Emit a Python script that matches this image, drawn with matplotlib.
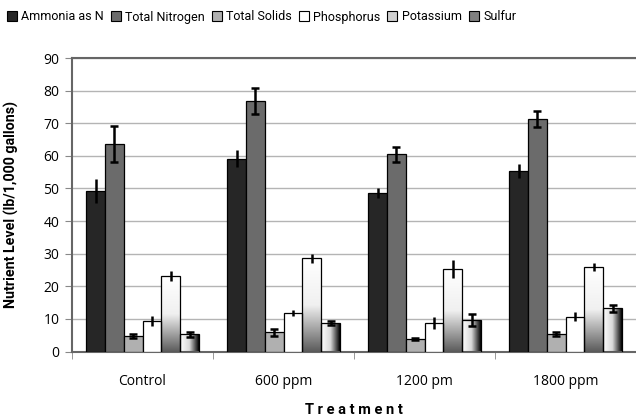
import numpy as np
import matplotlib
matplotlib.use("Agg")
import matplotlib.pyplot as plt
from matplotlib.patches import Patch
from matplotlib.colors import LinearSegmentedColormap

categories = ["Control", "600 ppm", "1200 pm", "1800 ppm"]
series = ["Ammonia as N", "Total Nitrogen", "Total Solids", "Phosphorus", "Potassium", "Sulfur"]
ammonia = [49.2, 59.1, 48.6, 55.3]
ammonia_err = [3.8, 2.6, 1.5, 2.2]
total_n = [63.5, 76.8, 60.5, 71.2]
total_n_err = [5.5, 4.0, 2.3, 2.5]
total_solids = [4.7, 5.9, 3.8, 5.3]
total_solids_err = [0.7, 1.1, 0.2, 0.6]
phosphorus = [9.3, 11.9, 8.7, 10.7]
phosphorus_err = [1.6, 0.9, 1.8, 1.3]
potassium = [23.2, 28.6, 25.3, 25.9]
potassium_err = [1.6, 1.4, 2.8, 1.3]
sulfur = [5.3, 8.7, 9.7, 13.3]
sulfur_err = [0.8, 0.6, 1.8, 1.1]

values = [ammonia, total_n, total_solids, phosphorus, potassium, sulfur]
errors = [ammonia_err, total_n_err, total_solids_err, phosphorus_err, potassium_err, sulfur_err]
fills = ["#262626", "#6b6b6b", "#b0b0b0", "#ffffff", "vgrad", "hgrad"]
caps = [0, 3, 3, 0, 0, 3]

plt.rcParams['font.family'] = ['Open Sans', 'DejaVu Sans']

fig = plt.figure(figsize=(6.36, 4.19), dpi=100)
ax = fig.add_axes([72/636, 1 - 351.5/419, 1 - 72/636, (351.5 - 58)/419])

n = len(series)
bw = 1.0 / (n + 1.5)
x = np.arange(len(categories))
vcmap = LinearSegmentedColormap.from_list("v", ["#ffffff", "#f0f0f0", "#5a5a5a"])
hcmap = LinearSegmentedColormap.from_list("h", ["#ffffff", "#d8d8d8", "#000000"])
grad = np.linspace(0, 1, 256)

for i, (vals, errs, fc, cs) in enumerate(zip(values, errors, fills, caps)):
    pos = x - 0.5 + 0.75 * bw + (i + 0.5) * bw
    face = fc if not fc.endswith("grad") else "none"
    bars = ax.bar(pos, vals, width=bw, color=face, edgecolor="black",
                  linewidth=0.9, zorder=3, label=series[i])
    for b in bars:
        if fc == "vgrad":
            im = ax.imshow(grad[::-1].reshape(-1, 1), cmap=vcmap, aspect="auto",
                           origin="lower",
                           extent=[b.get_x(), b.get_x() + b.get_width(), 0, b.get_height()],
                           zorder=2.5)
            im.set_clip_path(b)
        elif fc == "hgrad":
            im = ax.imshow(grad.reshape(1, -1), cmap=hcmap, aspect="auto",
                           extent=[b.get_x(), b.get_x() + b.get_width(), 0, b.get_height()],
                           zorder=2.5)
            im.set_clip_path(b)
    ax.errorbar(pos, vals, yerr=errs, fmt="none", ecolor="black", elinewidth=1.8,
                capsize=cs, capthick=1.8, zorder=4)

ax.set_xlim(-0.5, len(categories) - 0.5)
ax.set_ylim(0, 90)
ax.set_yticks(range(0, 91, 10))
ax.set_xticks(x)
ax.set_xticklabels(categories, fontsize=10)
ax.set_xticks(np.arange(len(categories) + 1) - 0.5, minor=True)
ax.tick_params(axis="x", which="major", length=0, pad=16)
ax.tick_params(axis="x", which="minor", length=5, color="#888888", direction="out")
ax.tick_params(axis="y", labelsize=10, length=5, color="#888888", pad=4)
ax.set_aspect("auto")
ax.grid(axis="y", color="#b4b4b4", linewidth=1, zorder=0)
ax.set_axisbelow(True)
for s in ["left", "bottom", "top"]:
    ax.spines[s].set_color("#666666")
    ax.spines[s].set_linewidth(1.5)
ax.spines["right"].set_visible(False)

ax.set_ylabel("Nutrient Level (lb/1,000 gallons)", fontsize=10.3, fontweight="bold",
              family=["Roboto", "DejaVu Sans"])
ax.yaxis.set_label_coords(-(72 - 19) / (636 - 72), 0.5)
ax.set_xlabel("T r e a t m e n t", fontsize=10.5, fontweight="bold",
              family=["Roboto", "DejaVu Sans"])
ax.xaxis.set_label_coords(0.5, -(410 - 351.5) / (351.5 - 58))
ax.xaxis.label.set_va("center")

handles = []
for i, fc in enumerate(fills):
    if fc == "vgrad":
        handles.append(Patch(facecolor="#d0d0d0", edgecolor="black", linewidth=0.8))
    elif fc == "hgrad":
        handles.append(Patch(facecolor="#808080", edgecolor="black", linewidth=0.8))
    else:
        handles.append(Patch(facecolor=fc, edgecolor="black", linewidth=0.8))
fig.legend(handles, series, loc="center left", bbox_to_anchor=(7/636, 1 - 17/419), ncol=6,
           frameon=False, prop={"family": ["Roboto", "DejaVu Sans"], "size": 9},
           handlelength=0.8, handleheight=0.8,
           handletextpad=0.35, columnspacing=0.55, borderaxespad=0, borderpad=0)

fig.savefig("out.png", dpi=100)
